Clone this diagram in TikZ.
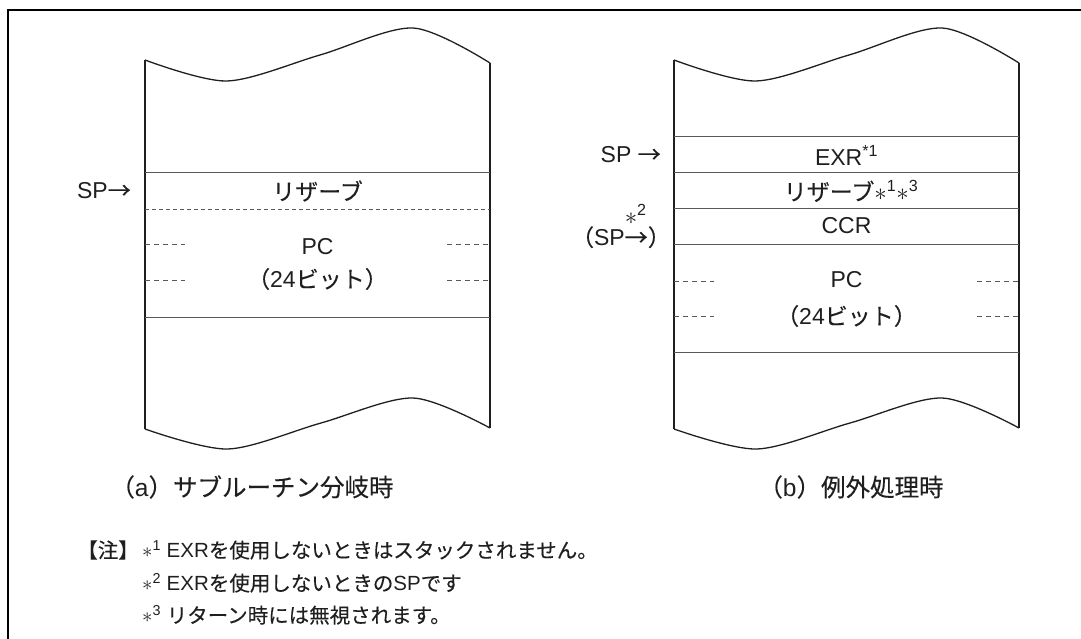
\documentclass[tikz,border=0pt]{standalone}
\usepackage{fontspec}
\setmainfont{Liberation Sans}
\newfontfamily\jp[FakeBold=0.2]{Noto Sans CJK JP}
\definecolor{ink}{gray}{0.12}
\definecolor{rulegray}{gray}{0.35}
\newcommand{\noteref}[1]{$\ast$\textsuperscript{#1}}

\begin{document}
\begin{tikzpicture}[x=1pt,y=-1pt,
  wall/.style={draw=ink,line width=1.3pt},
  rowline/.style={draw=rulegray,line width=1pt},
  halfline/.style={draw=rulegray,line width=0.9pt,dash pattern=on 4pt off 3pt},
  tick/.style={draw=rulegray,line width=0.9pt,dash pattern=on 5pt off 4pt},
  cell/.style={inner sep=0pt,text=ink,font=\fontsize{23}{27}\selectfont},
  caption/.style={inner sep=0pt,text=ink,font=\fontsize{24.5}{28}\selectfont},
  note/.style={inner sep=0pt,text=ink,anchor=west,font=\fontsize{20.5}{24}\selectfont}]

\useasboundingbox (0,0) rectangle (1081,639);

% frame
\draw[line width=2.6pt] (1081,10) -- (8,10) -- (8,645);

% both stacks have the same outline
\foreach \sx in {0,529} {
  \begin{scope}[xshift=\sx pt]
    \draw[wall] plot[smooth] coordinates {(145,60) (227,81) (320,55) (413,28) (490,63)};
    \draw[wall] plot[smooth] coordinates {(145,429) (228,449) (321,423) (413,398) (490,428)};
    \draw[wall] (145,60) -- (145,429);
    \draw[wall] (490,63) -- (490,428);
  \end{scope}
}

% (a) subroutine branch
\draw[rowline] (145,173) -- (490,173);
\draw[halfline] (145,209) -- (490,209);
\draw[rowline] (145,317) -- (490,317);
\draw[tick] (145,244) -- (185,244);
\draw[tick] (145,280) -- (185,280);
\draw[tick] (447,244) -- (490,244);
\draw[tick] (447,280) -- (490,280);

\node[cell] (resa) at (317.5,191) {\jp リザーブ};
\node[cell] (pca) at (317.5,247) {PC};
\node[cell] (bitsa) at (317.5,279) {{\jp （}24{\jp ビット）}};
\node[cell,anchor=east] (spa) at (131,191) {SP{\jp →}};
\node[caption] (capa) at (252,487) {{\jp （}a{\jp ）サブルーチン分岐時}};

% (b) exception handling
\draw[rowline] (674,137) -- (1019,137);
\draw[rowline] (674,173) -- (1019,173);
\draw[rowline] (674,209) -- (1019,209);
\draw[rowline] (674,244) -- (1019,244);
\draw[rowline] (674,352) -- (1019,352);
\draw[tick] (674,281) -- (714,281);
\draw[tick] (674,316) -- (714,316);
\draw[tick] (977,281) -- (1019,281);
\draw[tick] (977,316) -- (1019,316);

\node[cell] (exr) at (846.5,155) {EXR\textsuperscript{*1}};
\node[cell] (resb) at (851,191) {{\jp リザーブ}\noteref{1}\noteref{3}};
\node[cell] (ccr) at (846.5,226) {CCR};
\node[cell] (pcb) at (846.5,280) {PC};
\node[cell] (bitsb) at (846.5,316) {{\jp （}24{\jp ビット）}};
\node[cell,anchor=east] (spb) at (661,155) {SP {\jp →}};
\node[cell,anchor=east] (spc) at (671,226) {{\jp （}SP\rlap{\raisebox{0.95em}{\noteref{2}}}{\jp →）}};
\node[caption] (capb) at (851,487) {{\jp （}b{\jp ）例外処理時}};

% notes
\node[note,anchor=east] (notehead) at (139,550) {\jp 【注】};
\node[note] (note1) at (142,550) {\noteref{1} EXR{\jp を使用しないときはスタックされません。}};
\node[note] (note2) at (142,583) {\noteref{2} EXR{\jp を使用しないときの}SP{\jp です}};
\node[note] (note3) at (142,615) {\noteref{3} {\jp リターン時には無視されます。}};

\end{tikzpicture}
\end{document}
